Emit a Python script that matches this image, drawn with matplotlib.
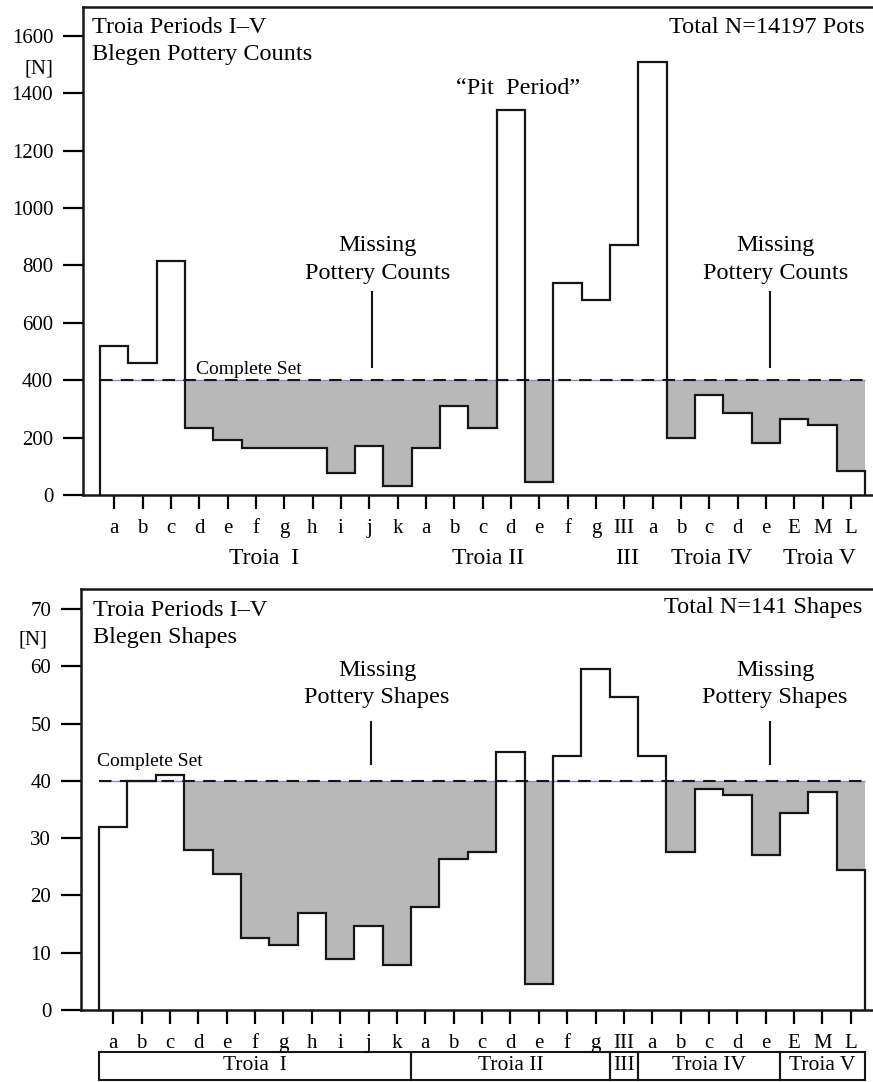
import numpy as np
import matplotlib.pyplot as plt
from matplotlib.patches import Rectangle

plt.rcParams['font.family'] = ['Liberation Serif', 'DejaVu Serif']

# sub-phase labels along the x axis
phases = ['a', 'b', 'c', 'd', 'e', 'f', 'g', 'h', 'i', 'j', 'k',
          'a', 'b', 'c', 'd', 'e', 'f', 'g',
          'III',
          'a', 'b', 'c', 'd', 'e',
          'E', 'M', 'L']
periods = ['Troia  I', 'Troia II', 'III', 'Troia IV', 'Troia V']
period_sizes = [11, 7, 1, 5, 3]

# Blegen pottery counts per phase
pottery_counts = [520, 460, 815, 235, 193, 165, 165, 165, 75, 170, 30,
                  165, 310, 235, 1340, 45, 740, 680,
                  870,
                  1510, 200, 350, 285, 180,
                  265, 245, 85]
# Blegen shapes per phase
shape_counts = [32, 40, 41, 28, 23.8, 12.5, 11.3, 17, 8.9, 14.7, 7.8,
                18, 26.3, 27.5, 45, 4.6, 44.4, 59.5,
                54.7,
                44.4, 27.5, 38.6, 37.5, 27,
                34.4, 38.1, 24.5]
complete_counts = 400
complete_shapes = 40

GRAY = '#b9b8b9'
INK = '#161616'


def draw_panel(ax, values, complete, ymax, yticks):
    values = np.asarray(values, dtype=float)
    n = len(values)
    x = np.arange(n)
    edges = np.arange(n + 1) - 0.5

    # gray area = what is missing up to the complete set (from Troia I d on)
    mask = (x >= 3) & (values < complete)
    upper = np.where(mask, complete, values)
    ax.stairs(upper, edges, baseline=values, fill=True, color=GRAY, lw=0, zorder=1)

    # complete set line: pale blue under black dashes
    ax.hlines(complete, edges[0], edges[-1], color='#8c8cd6', lw=1.0, zorder=2)
    ax.hlines(complete, edges[0], edges[-1], color=INK, lw=1.5,
              linestyles=(0, (6, 4)), zorder=3)

    ax.stairs(values, edges, baseline=0, color=INK, lw=1.6, zorder=4)

    ax.set_xlim(-1.1, 26.78)
    ax.set_ylim(0, ymax)
    ax.set_xticks(x)
    ax.set_xticklabels(phases, fontsize=15)
    ax.set_yticks(yticks)
    ax.tick_params(axis='y', length=14.4, width=1.6, pad=7, labelsize=15)
    ax.tick_params(axis='x', length=10, width=1.6, pad=7)
    ax.spines['right'].set_visible(False)
    for s in ['left', 'top', 'bottom']:
        ax.spines[s].set_linewidth(1.8)
        ax.spines[s].set_color(INK)


fig = plt.figure(figsize=(8.73, 10.82), dpi=100)
ax1 = fig.add_axes([83 / 873, 1 - 495 / 1082, 790 / 873, 488 / 1082])
ax2 = fig.add_axes([81 / 873, 1 - 1010 / 1082, 792 / 873, 421 / 1082])

# ---- top panel: pottery counts ----
draw_panel(ax1, pottery_counts, complete_counts, 1700, range(0, 1601, 200))
ax1.text(0.012, 0.959, 'Troia Periods I\u2013V', transform=ax1.transAxes,
         fontsize=17.5, va='center', ha='left')
ax1.text(0.012, 0.902, 'Blegen Pottery Counts', transform=ax1.transAxes,
         fontsize=17.5, va='center', ha='left')
ax1.text(0.99, 0.959, 'Total N=14197 Pots', transform=ax1.transAxes,
         fontsize=17.5, va='center', ha='right')
ax1.text(-0.038, 1485, '[N]', transform=ax1.get_yaxis_transform(),
         fontsize=15, va='center', ha='right')
ax1.text(14.27, 1415, '\u201cPit  Period\u201d', fontsize=17.5, ha='center', va='center')
for xc, xl in [(9.3, 9.09), (23.33, 23.16)]:
    ax1.text(xc, 820, 'Missing\nPottery Counts', fontsize=17.5,
             ha='center', va='center', linespacing=1.4)
    ax1.plot([xl, xl], [445, 706], color=INK, lw=1.5)
ax1.text(2.88, 438, 'Complete Set', fontsize=14, ha='left', va='center')

top_label_x = [5.3, 13.2, 18.1, 21.1, 24.9]
for name, xc in zip(periods, top_label_x):
    ax1.text(xc, -0.13, name, transform=ax1.get_xaxis_transform(),
             fontsize=17, ha='center', va='center')

# ---- bottom panel: shapes ----
draw_panel(ax2, shape_counts, complete_shapes, 73.5, range(0, 71, 10))
ax2.set_xlim(-1.135, 26.78)
ax2.text(0.015, 0.950, 'Troia Periods I\u2013V', transform=ax2.transAxes,
         fontsize=17.5, va='center', ha='left')
ax2.text(0.015, 0.884, 'Blegen Shapes', transform=ax2.transAxes,
         fontsize=17.5, va='center', ha='left')
ax2.text(0.986, 0.955, 'Total N=141 Shapes', transform=ax2.transAxes,
         fontsize=17.5, va='center', ha='right')
ax2.text(-0.043, 64.6, '[N]', transform=ax2.get_yaxis_transform(),
         fontsize=15, va='center', ha='right')
for xc, xl in [(9.3, 9.09), (23.33, 23.16)]:
    ax2.text(xc, 56.9, 'Missing\nPottery Shapes', fontsize=17.5,
             ha='center', va='center', linespacing=1.4)
    ax2.plot([xl, xl], [42.9, 50.3], color=INK, lw=1.5)
ax2.text(-0.57, 43.3, 'Complete Set', fontsize=14, ha='left', va='center')

start = 0
for name, size in zip(periods, period_sizes):
    ax2.add_patch(Rectangle((start - 0.5, -0.166), size, 0.066,
                            transform=ax2.get_xaxis_transform(), fill=False,
                            lw=1.5, edgecolor=INK, clip_on=False))
    ax2.text(start - 0.5 + size / 2, -0.133, name, transform=ax2.get_xaxis_transform(),
             fontsize=15.5, ha='center', va='center')
    start += size

fig.savefig('out.png', dpi=100)
